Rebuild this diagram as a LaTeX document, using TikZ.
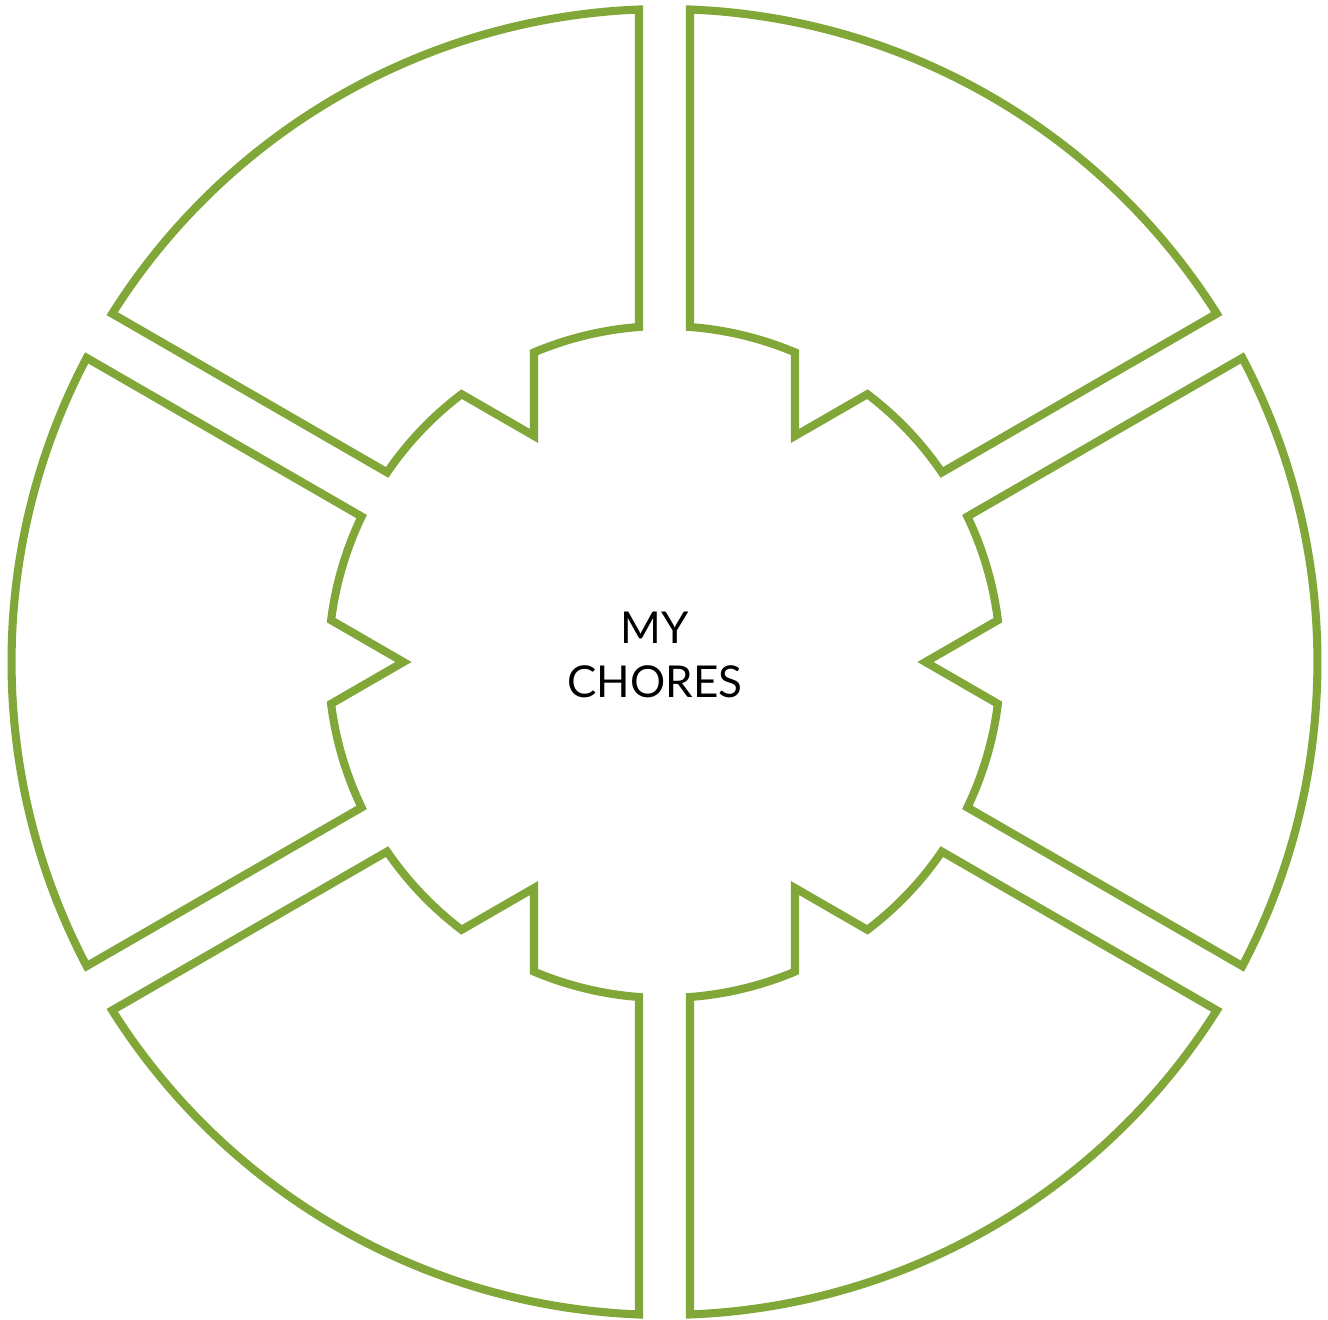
\documentclass[tikz,border=0pt]{standalone}
\usepackage{fontspec}
\setmainfont{Lato}
\definecolor{ChoreGreen}{RGB}{128,167,56}
\usepackage{tikz}

\begin{document}
\begin{tikzpicture}[chore/.style={draw=ChoreGreen, line width=2.3pt, line join=miter}]
      \useasboundingbox (-6.645,-6.57) rectangle (6.635,6.62);
      \foreach \m in {0,60,...,300}
        \draw[chore] (\m+27.76:6.53) arc[start angle=\m+27.76, end angle=\m-27.76, radius=6.53]
              -- (\m-25.65:3.36) arc[start angle=\m-25.65, end angle=\m-7.15, radius=3.36]
              -- (\m:2.61) -- (\m+7.15:3.36)
              arc[start angle=\m+7.15, end angle=\m+25.65, radius=3.36] -- cycle;
      \node[align=center, font=\fontsize{12.5}{15.6}\selectfont] (title) at (-0.095,0.07) {MY\\CHORES};
    \end{tikzpicture}
\end{document}
